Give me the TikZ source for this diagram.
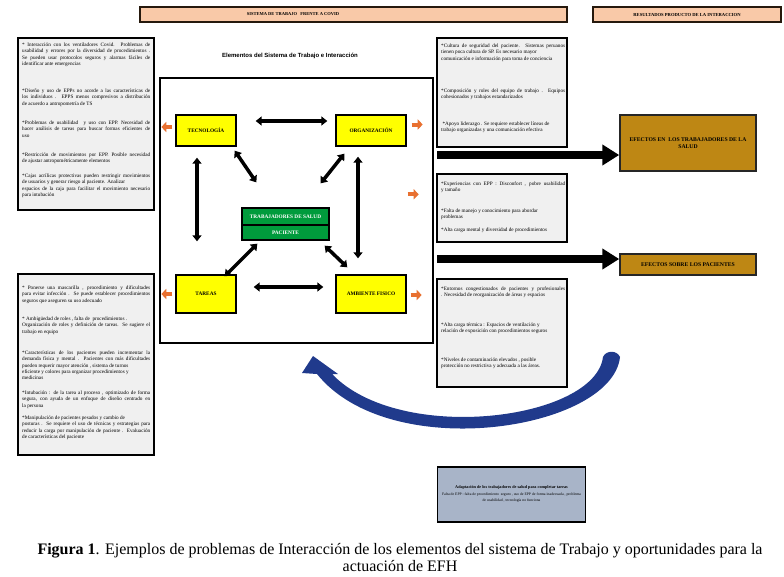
\documentclass[tikz,border=0pt]{standalone}
\usepackage{fontspec}
\setmainfont{Liberation Serif}
\newfontfamily\sansf{Liberation Sans}
\usetikzlibrary{arrows.meta}
\definecolor{peach}{RGB}{249,201,168}
\definecolor{ybox}{RGB}{255,255,0}
\definecolor{gbox}{RGB}{0,155,60}
\definecolor{oarrc}{RGB}{232,112,48}
\definecolor{goldbox}{RGB}{190,135,20}
\definecolor{greybox}{RGB}{240,240,240}
\definecolor{bluebox}{RGB}{168,180,200}
\definecolor{navy}{RGB}{32,58,140}
\newcommand{\nohyph}{\hyphenpenalty=10000 \exhyphenpenalty=10000 \hbadness=10000 \hfuzz=20pt\relax}
\begin{document}
\begin{tikzpicture}[x=1pt,y=-1pt,
  hdr/.style={draw=black!80!brown, line width=1.2pt, fill=peach, inner sep=0pt},
  txtbox/.style={draw=black, line width=1.3pt, fill=greybox, inner sep=0pt},
  para/.style={anchor=north west, inner sep=0pt, text width=#1, align=justify, font=\fontsize{5.2}{6.1}\selectfont\nohyph},
  ybx/.style={draw=black, line width=1.4pt, fill=ybox, inner sep=0pt, font=\bfseries\fontsize{5.3}{6}\selectfont},
  gbx/.style={draw=black, line width=1.3pt, fill=gbox, text=white, inner sep=0pt, font=\bfseries\fontsize{5.3}{6}\selectfont},
  effbox/.style={draw=black!85, line width=1.5pt, fill=goldbox, inner sep=0pt, align=center, font=\bfseries\fontsize{5.7}{7}\selectfont},
  dbl/.style={line width=3.5pt, {Triangle[width=9pt,length=6pt]}-{Triangle[width=9pt,length=6pt]}},
  oarr/.style={line width=4pt, draw=oarrc, -{Triangle[width=10pt,length=5pt]}},
  bigarr/.style={line width=8pt, draw=black, -{Triangle[width=20pt,length=17pt]}}
]
\useasboundingbox (0,0) rectangle (784,576);
\fill[white] (0,0) rectangle (784,576);

% headers
\node[hdr, minimum width=427pt, minimum height=15pt] (h1) at (353.5,14.5) {};
\node[font=\bfseries\fontsize{4.5}{5}\selectfont] (h1t) at (293,14.5) {SISTEMA DE TRABAJO\ \ \ FRENTE A COVID};
\node[hdr, minimum width=188pt, minimum height=15pt, font=\bfseries\fontsize{4.6}{5}\selectfont] (h2) at (687,14.5) {RESULTADOS PRODUCTO DE LA INTERACCION};

% left boxes
\node[txtbox, minimum width=136pt, minimum height=172pt] (lt) at (86,124) {};
\node[para=128pt] (lt1) at (22,43) {* Interacción con los ventiladores Covid. Problemas de\linebreak usabilidad y errores por la diversidad de procedimientos .\linebreak Se pueden usar protocolos seguros y alarmas fáciles de\linebreak identificar ante emergencias};
\node[para=128pt] (lt2) at (22,89) {*Diseño y uso de EPPs no acorde a las características de\linebreak los individuos . EPPS menos compresivos a distribución\linebreak de acuerdo a antropometría de TS};
\node[para=128pt] (lt3) at (22,121) {*Problemas de usabilidad\ \ y uso con EPP. Necesidad de\linebreak hacer análisis de tareas para buscar formas eficientes de\linebreak uso};
\node[para=128pt] (lt4) at (22,153) {*Restricción de movimientos por EPP. Posible necesidad\linebreak de ajustar antropométricamente elementos};
\node[para=128pt] (lt5) at (22,174) {*Cajas acrílicas protectivas pueden restringir movimientos\linebreak de usuarios y generar riesgo al paciente. Analizar\\ espacios de la caja para facilitar el movimiento necesario\linebreak para intubación};

\node[txtbox, minimum width=136pt, minimum height=181pt] (lb) at (86,364.5) {};
\node[para=128pt] (lb1) at (22,286) {* Ponerse una mascarilla , procedimiento y dificultades\linebreak para evitar infección . Se puede establecer procedimientos\linebreak seguros que aseguren su uso adecuado};
\node[para=128pt] (lb2) at (22,317) {* Ambigüedad de roles , falta de\ \ procedimientos .\\ Organización de roles y definición de tareas. Se sugiere el\linebreak trabajo en equipo};
\node[para=128pt] (lb3) at (22,351) {*Características de los pacientes pueden incrementar la\linebreak demanda física y mental . Pacientes con más dificultades\linebreak pueden requerir mayor atención , sistema de turnos\\ eficiente y colores para organizar procedimientos y\\ medicinas};
\node[para=128pt] (lb4) at (22,391) {*Intubación : de la tarea al proceso , optimizado de forma\linebreak segura, con ayuda de un enfoque de diseño centrado en\linebreak la persona};
\node[para=128pt] (lb5) at (22,416) {*Manipulación de pacientes pesados y cambio de\\ posturas . Se requiere el uso de técnicas y estrategias para\linebreak reducir la carga por manipulación de paciente . Evaluación\linebreak de características del paciente};

% central frame
\draw[line width=1.3pt] (160,78) rectangle (433,343);
\node[font=\sansf\bfseries\fontsize{6}{7}\selectfont] (ttl) at (290,56) {Elementos del Sistema de Trabajo e Interacción};

\node[ybx, minimum width=60pt, minimum height=31pt] (tec) at (206,130.5) {TECNOLOGÍA};
\node[ybx, minimum width=70pt, minimum height=31pt] (org) at (371,130.5) {ORGANIZACIÓN};
\node[ybx, minimum width=60pt, minimum height=38pt] (tar) at (206,294) {TAREAS};
\node[ybx, minimum width=70pt, minimum height=38pt] (amb) at (371,294) {AMBIENTE FISICO};
\node[gbx, minimum width=87pt, minimum height=17pt] (tsal) at (285.5,216.5) {TRABAJADORES DE SALUD};
\node[gbx, minimum width=87pt, minimum height=15pt] (pac) at (285.5,232.5) {PACIENTE};

\draw[dbl] ([shift={(19,-9.5)}]tec.east) -- ([shift={(-8,-9.5)}]org.west);
\draw[dbl] ([shift={(17,-7)}]tar.east) -- ([shift={(-12,-7)}]amb.west);
\draw[dbl] ([shift={(-9,11)}]tec.south) -- ([shift={(-9,-33)}]tar.north);
\draw[dbl] ([shift={(-13,10)}]org.south) -- ([shift={(-13,-16)}]amb.north);
\draw[dbl] ([shift={(-2,4)}]tec.south east) -- ([shift={(15,-25)}]tsal.north west);
\draw[dbl] ([shift={(9,7)}]org.south west) -- ([shift={(-9,-24)}]tsal.north east);
\draw[dbl] ([shift={(16,3)}]pac.south west) -- ([shift={(-12,2)}]tar.north east);
\draw[dbl] ([shift={(-5,5)}]pac.south east) -- ([shift={(12,-7)}]amb.north west);

\draw[oarr] ([shift={(-3,-3.5)}]tec.west) -- ++(-11,0);
\draw[oarr] ([shift={(5,-6)}]org.east) -- ++(11,0);
\draw[oarr] ([shift={(1,-80)}]amb.north east) -- ++(11,0);
\draw[oarr] ([shift={(-3,0)}]tar.west) -- ++(-11,0);
\draw[oarr] ([shift={(4,1)}]amb.east) -- ++(11,0);

% middle column boxes
\node[txtbox, minimum width=130pt, minimum height=109pt] (m1) at (502,92.5) {};
\node[para=124pt] (m1a) at (441,44) {*Cultura de seguridad del paciente. Sistemas peruanos\linebreak tienen poca cultura de SP. Es necesario mayor\\ comunicación e información para toma de conciencia};
\node[para=124pt] (m1b) at (441,89) {*Composición y roles del equipo de trabajo . Equipos\linebreak cohesionados y trabajos estandarizados};
\node[para=124pt] (m1c) at (441,122) {\ *Apoyo liderazgo . Se requiere establecer líneas de\\ trabajo organizadas y una comunicación efectiva};

\node[txtbox, minimum width=130pt, minimum height=68pt] (m2) at (502,208) {};
\node[para=124pt] (m2a) at (441,182) {*Experiencias con EPP : Disconfort , pobre usabilidad\linebreak y tamaño};
\node[para=124pt] (m2b) at (441,209) {*Falta de manejo y conocimiento para abordar\\ problemas};
\node[para=124pt] (m2c) at (441,228) {*Alta carga mental y diversidad de procedimientos};

\node[txtbox, minimum width=130pt, minimum height=108pt] (m3) at (502,333) {};
\node[para=124pt] (m3a) at (441,287) {*Entornos congestionados de pacientes y profesionales\linebreak . Necesidad de reorganización de áreas y espacios};
\node[para=124pt] (m3b) at (441,323) {*Alta carga térmica : Espacios de ventilación y\\ relación de exposición con procedimientos seguros};
\node[para=124pt] (m3c) at (441,358) {*Niveles de contaminación elevados , posible\\ protección no restrictiva y adecuada a las áreas.};

% effects
\node[effbox, minimum width=136pt, minimum height=56pt] (eff1) at (688,143) {EFECTOS EN\ \ LOS TRABAJADORES DE LA\\SALUD};
\node[effbox, minimum width=136pt, minimum height=21pt] (eff2) at (688,264.5) {EFECTOS SOBRE LOS PACIENTES};
\coordinate (s1) at (437,155);
\coordinate (s2) at (437,259);
\draw[bigarr] (s1) -- (eff1.west |- s1);
\draw[bigarr] (s2) -- (eff2.west |- s2);

% blue curved arrow
\fill[navy] (620,357) .. controls (612,430) and (390,465) .. (317,374) -- (302,373) -- (313,356) -- (338,374) -- (332,374)
  .. controls (400,445) and (595,420) .. (603,357) .. controls (606,350) and (617,350) .. (620,357) -- cycle;

% bottom box
\node[draw=black, line width=1.3pt, fill=bluebox, minimum width=148pt, minimum height=55pt, inner sep=0pt] (ad) at (511.5,494.5) {};
\node[align=center, inner sep=0pt, font=\fontsize{3.8}{6.5}\selectfont] (adt) at (511.5,494) {{\bfseries\fontsize{4.2}{6.5}\selectfont Adaptación de los trabajadores de salud para completar tareas}\\Falta de EPP : falta de procedimiento\ \ seguro , uso de EPP de forma inadecuada , problema\\de usabilidad , tecnología no funciona};

% caption
\node[align=center, inner sep=0pt, font=\fontsize{16}{17}\selectfont] (cap) at (400,557.5) {\textbf{Figura 1}. Ejemplos de problemas de Interacción de los elementos del sistema de Trabajo y oportunidades para la\\actuación de EFH};
\end{tikzpicture}
\end{document}
